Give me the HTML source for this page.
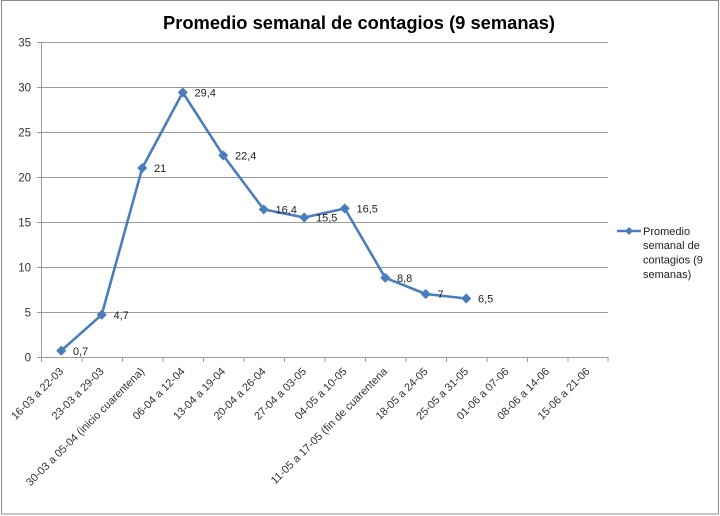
<!DOCTYPE html>
<html>
<head>
<meta charset="utf-8">
<style>
  html, body { margin:0; padding:0; background:#fff; }
  svg { display:block; }
  text { font-family: "Liberation Sans", "DejaVu Sans", sans-serif; }
</style>
</head>
<body>
<svg width="720" height="516" viewBox="0 0 720 516" xmlns="http://www.w3.org/2000/svg">
  <rect x="0" y="0" width="720" height="516" fill="#ffffff"/>
  <rect x="1.5" y="0.5" width="717" height="513.5" fill="none" stroke="#8c8c8c" stroke-width="1"/>

  <!-- Title -->
  <text x="359" y="29" text-anchor="middle" font-size="18" font-weight="bold" fill="#000" textLength="392" lengthAdjust="spacingAndGlyphs">Promedio semanal de contagios (9 semanas)</text>

  <!-- Gridlines -->
  <g stroke="#9a9a9a" stroke-width="1">
    <line x1="37" y1="42.5" x2="608" y2="42.5"/>
    <line x1="37" y1="87.5" x2="608" y2="87.5"/>
    <line x1="37" y1="132.5" x2="608" y2="132.5"/>
    <line x1="37" y1="177.5" x2="608" y2="177.5"/>
    <line x1="37" y1="222.5" x2="608" y2="222.5"/>
    <line x1="37" y1="267.5" x2="608" y2="267.5"/>
    <line x1="37" y1="312.5" x2="608" y2="312.5"/>
    <!-- axes -->
    <line x1="41.5" y1="42" x2="41.5" y2="357.5"/>
    <line x1="37" y1="357.5" x2="608" y2="357.5"/>
  </g>
  <!-- x ticks -->
  <g stroke="#9a9a9a" stroke-width="1">
    <line x1="41.5" y1="357" x2="41.5" y2="362"/>
    <line x1="82" y1="357" x2="82" y2="362"/>
    <line x1="122.5" y1="357" x2="122.5" y2="362"/>
    <line x1="163" y1="357" x2="163" y2="362"/>
    <line x1="203.5" y1="357" x2="203.5" y2="362"/>
    <line x1="244" y1="357" x2="244" y2="362"/>
    <line x1="284.5" y1="357" x2="284.5" y2="362"/>
    <line x1="325" y1="357" x2="325" y2="362"/>
    <line x1="365.5" y1="357" x2="365.5" y2="362"/>
    <line x1="406" y1="357" x2="406" y2="362"/>
    <line x1="446.5" y1="357" x2="446.5" y2="362"/>
    <line x1="487" y1="357" x2="487" y2="362"/>
    <line x1="527.5" y1="357" x2="527.5" y2="362"/>
    <line x1="568" y1="357" x2="568" y2="362"/>
    <line x1="608" y1="357" x2="608" y2="362"/>
  </g>

  <!-- Y labels -->
  <g font-size="11.5" fill="#333" text-anchor="end">
    <text x="31" y="46.5">35</text>
    <text x="31" y="91.5">30</text>
    <text x="31" y="136.5">25</text>
    <text x="31" y="181.5">20</text>
    <text x="31" y="226.5">15</text>
    <text x="31" y="271.5">10</text>
    <text x="31" y="316.5">5</text>
    <text x="31" y="361.5">0</text>
  </g>

  <!-- X labels -->
  <g font-size="11" fill="#333" text-anchor="end">
    <text transform="translate(64,372) rotate(-45)">16-03 a 22-03</text>
    <text transform="translate(104.5,372) rotate(-45)">23-03 a 29-03</text>
    <text transform="translate(145,372) rotate(-45)">30-03 a 05-04 (inicio cuarentena)</text>
    <text transform="translate(185.5,372) rotate(-45)">06-04 a 12-04</text>
    <text transform="translate(226,372) rotate(-45)">13-04 a 19-04</text>
    <text transform="translate(266.5,372) rotate(-45)">20-04 a 26-04</text>
    <text transform="translate(307,372) rotate(-45)">27-04 a 03-05</text>
    <text transform="translate(347.5,372) rotate(-45)">04-05 a 10-05</text>
    <text transform="translate(388,372) rotate(-45)">11-05 a 17-05 (fin de cuarentena</text>
    <text transform="translate(428.5,372) rotate(-45)">18-05 a 24-05</text>
    <text transform="translate(469,372) rotate(-45)">25-05 a 31-05</text>
    <text transform="translate(509.5,372) rotate(-45)">01-06 a 07-06</text>
    <text transform="translate(550,372) rotate(-45)">08-06 a 14-06</text>
    <text transform="translate(590.5,372) rotate(-45)">15-06 a 21-06</text>
  </g>

  <!-- Series line -->
  <polyline fill="none" stroke="#4a7ebb" stroke-width="2.6" stroke-linejoin="round"
    points="61.25,350.7 101.75,314.7 142.25,168 182.75,92.4 223.25,155.4 263.75,209.4 304.25,217.5 344.75,208.5 385.25,277.8 425.75,294 466.25,298.5"/>

  <!-- Markers -->
  <g fill="#4a7ebb" stroke="#4a7ebb" stroke-width="0.8">
    <path d="M61.25,346.2 L65.75,350.7 L61.25,355.2 L56.75,350.7 Z"/>
    <path d="M101.75,310.2 L106.25,314.7 L101.75,319.2 L97.25,314.7 Z"/>
    <path d="M142.25,163.5 L146.75,168 L142.25,172.5 L137.75,168 Z"/>
    <path d="M182.75,87.9 L187.25,92.4 L182.75,96.9 L178.25,92.4 Z"/>
    <path d="M223.25,150.9 L227.75,155.4 L223.25,159.9 L218.75,155.4 Z"/>
    <path d="M263.75,204.9 L268.25,209.4 L263.75,213.9 L259.25,209.4 Z"/>
    <path d="M304.25,213 L308.75,217.5 L304.25,222 L299.75,217.5 Z"/>
    <path d="M344.75,204 L349.25,208.5 L344.75,213 L340.25,208.5 Z"/>
    <path d="M385.25,273.3 L389.75,277.8 L385.25,282.3 L380.75,277.8 Z"/>
    <path d="M425.75,289.5 L430.25,294 L425.75,298.5 L421.25,294 Z"/>
    <path d="M466.25,294 L470.75,298.5 L466.25,303 L461.75,298.5 Z"/>
  </g>

  <!-- Data labels -->
  <g font-size="11" fill="#222">
    <text x="73" y="355">0,7</text>
    <text x="113.5" y="319">4,7</text>
    <text x="154" y="172">21</text>
    <text x="194.5" y="96.5">29,4</text>
    <text x="235" y="159.5">22,4</text>
    <text x="275.5" y="213.5">16,4</text>
    <text x="316" y="221.5">15,5</text>
    <text x="356.5" y="212.5">16,5</text>
    <text x="397" y="282">8,8</text>
    <text x="437.5" y="298">7</text>
    <text x="478" y="302.5">6,5</text>
  </g>

  <!-- Legend -->
  <line x1="617" y1="231" x2="641" y2="231" stroke="#4a7ebb" stroke-width="2.6"/>
  <path d="M629,227 L633,231 L629,235 L625,231 Z" fill="#4a7ebb"/>
  <g font-size="11" fill="#222">
    <text x="643" y="235">Promedio</text>
    <text x="643" y="249">semanal de</text>
    <text x="643" y="263.5">contagios (9</text>
    <text x="643" y="278">semanas)</text>
  </g>
</svg>
</body>
</html>
